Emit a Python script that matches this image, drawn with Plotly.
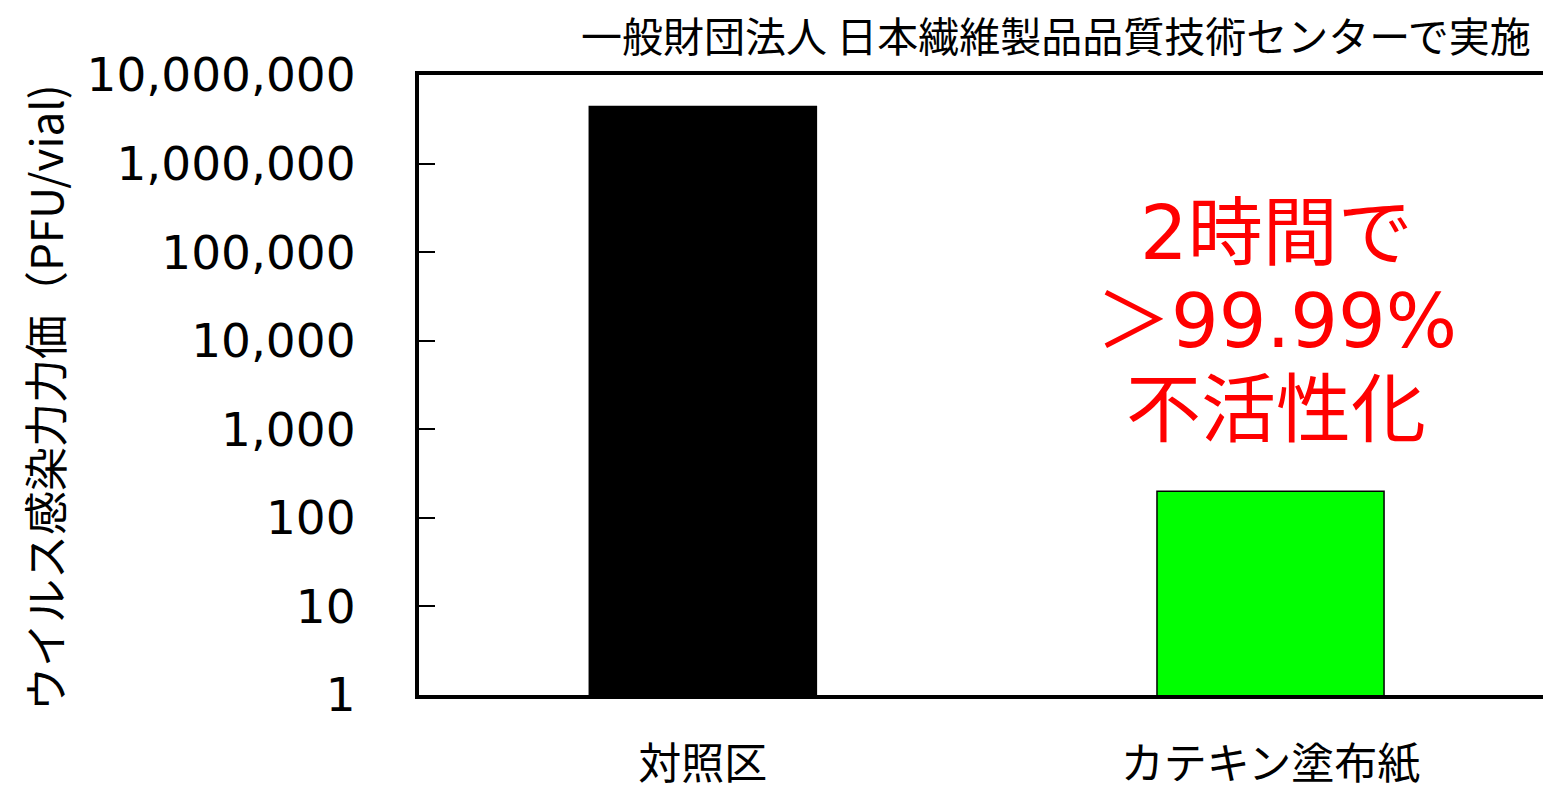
import plotly.graph_objects as go

categories = ["対照区", "カテキン塗布紙"]
values = [4.4e6, 200]
bar_colors = ["#000000", "#00FF00"]
ytick_vals = [1, 10, 100, 1000, 10000, 100000, 1000000, 10000000]
ytick_text = ["1", "10", "100", "1,000", "10,000", "100,000", "1,000,000", "10,000,000"]
y_title = "ウイルス感染力力価（PFU/vial)"
note_text = "一般財団法人 日本繊維製品品質技術センターで実施"
result_lines = ["2時間で", "＞99.99%", "不活性化"]

W, H = 1543, 796
ML, MR, MT, MB = 419, 0, 75, 101
PW, PH = W - ML - MR, H - MT - MB


def px_x(px):
    return (px - ML) / PW


def px_y(py):
    return (H - MB - py) / PH


fig = go.Figure()
fig.add_trace(go.Bar(
    x=categories, y=values, width=0.4,
    marker=dict(color=bar_colors, line=dict(color="black", width=1.5)),
))

fig.update_layout(
    width=W, height=H, autosize=False,
    margin=dict(l=ML, r=MR, t=MT, b=MB, pad=0),
    paper_bgcolor="white", plot_bgcolor="white",
    showlegend=False, template=None,
    xaxis=dict(
        type="category", range=[-0.5, 1.48],
        showline=True, linecolor="black", linewidth=4, mirror=True,
        ticks="", showgrid=False, zeroline=False, automargin=False,
        tickfont=dict(family="Noto Sans CJK JP", size=43, color="black"),
        ticklabelstandoff=28,
    ),
    yaxis=dict(
        type="log", range=[0, 7],
        showline=True, linecolor="black", linewidth=4, mirror=False,
        ticks="inside", ticklen=16, tickwidth=1.5, tickcolor="black",
        tickvals=ytick_vals, ticktext=ytick_text,
        showgrid=False, zeroline=False, automargin=False,
        tickfont=dict(family="DejaVu Sans", size=47, color="black"),
        ticklabelstandoff=50,
    ),
)

fig.add_annotation(
    text=y_title, textangle=-90, xref="paper", yref="paper",
    x=px_x(44), y=px_y(398),
    xanchor="center", yanchor="middle", showarrow=False,
    font=dict(family="Noto Sans CJK JP", size=44, color="black"),
)
fig.add_annotation(
    text=note_text, xref="paper", yref="paper",
    x=px_x(1533), y=px_y(34),
    xanchor="right", yanchor="middle", showarrow=False,
    font=dict(family="Noto Sans CJK JP", size=41, color="black"),
)
for line, cy in zip(result_lines, [233, 321, 410]):
    fig.add_annotation(
        text=line, xref="paper", yref="paper",
        x=px_x(1276), y=px_y(cy),
        xanchor="center", yanchor="middle", showarrow=False,
        font=dict(family="DejaVu Sans, Noto Sans CJK JP", size=75, color="#FF0000"),
    )

fig.write_html("out.html")
